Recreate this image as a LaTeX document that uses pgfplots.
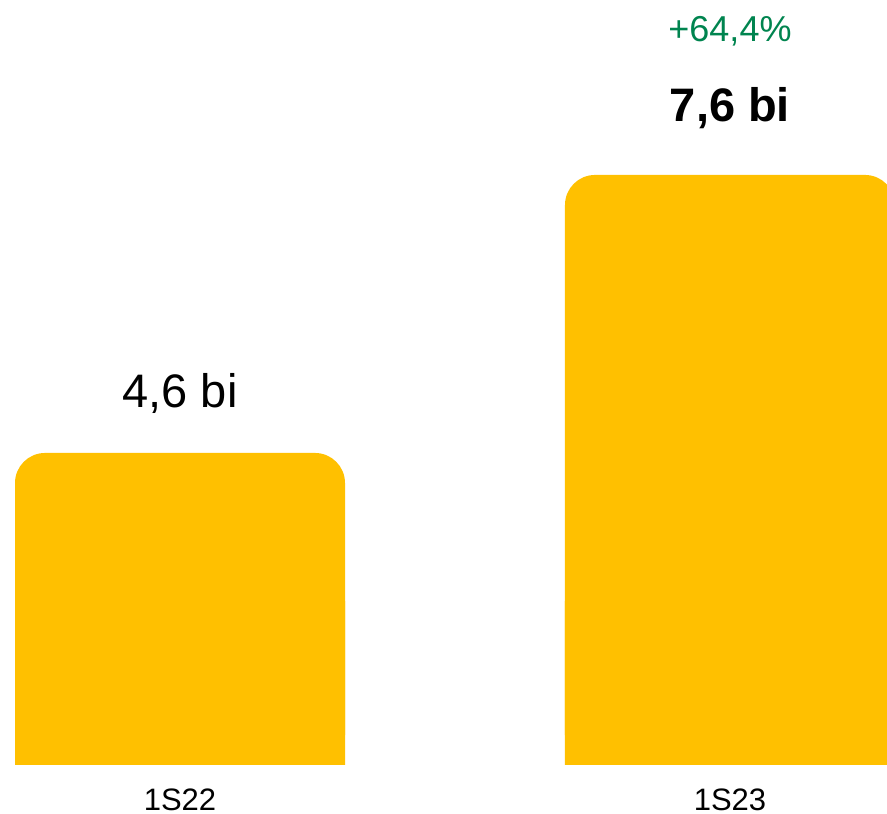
\documentclass[border=0pt]{standalone}
\usepackage{pgfplots}
\pgfplotsset{compat=1.18}
\usepackage{fontspec}
\setmainfont{Liberation Sans}
\definecolor{baryellow}{HTML}{FFC000}
\definecolor{pctgreen}{HTML}{00844F}
\begin{document}
\begin{tikzpicture}
\useasboundingbox (0,0) rectangle (887pt,814pt);
\begin{axis}[
  at={(0,49pt)}, anchor=south west,
  scale only axis, width=887pt, height=765pt,
  xmin=-0.3273, xmax=1.2855,
  ymin=1.233, ymax=9.488,
  axis line style={draw=none},
  ytick=\empty,
  xtick={0,1}, xticklabels={1S22,1S23},
  major tick length=0pt,
  xticklabel style={anchor=base, yshift=-46pt, font=\fontsize{31}{34}\selectfont},
  ybar, bar width=0.6,
  clip=true,
]
\addplot[fill=baryellow, draw=none, rounded corners=30pt, bar shift=0pt] coordinates {(0,4.6) (1,7.6)};
\addplot[fill=baryellow, draw=none, bar shift=0pt] coordinates {(0,3.0) (1,3.0)};
\node[anchor=base, font=\fontsize{47}{52}\selectfont] at (axis cs:0,5.096) {4,6 bi};
\node[anchor=base, font=\fontsize{47}{52}\selectfont\bfseries] at (axis cs:1,8.172) {7,6 bi};
\node[anchor=base, text=pctgreen, font=\fontsize{36}{40}\selectfont] at (axis cs:1,9.035) {+64,4\%};
\end{axis}
\end{tikzpicture}
\end{document}
